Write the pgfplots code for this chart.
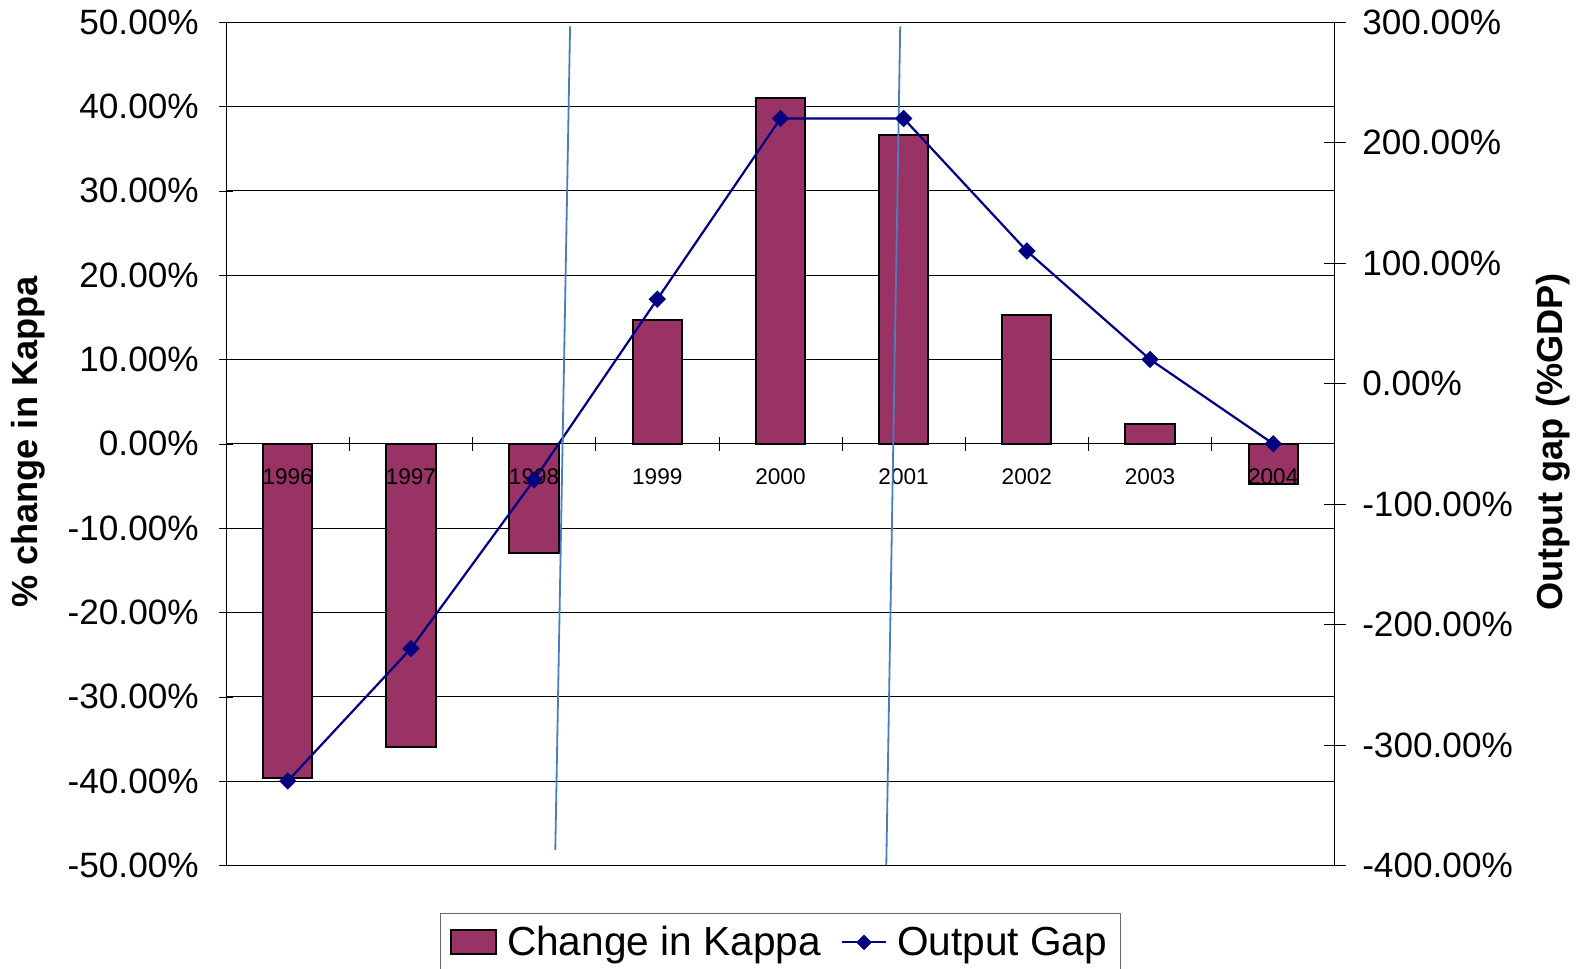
\documentclass[border=0pt]{standalone}
\usepackage{pgfplots}
\pgfplotsset{compat=1.18}
\usepackage{fontspec}
\setmainfont{Liberation Sans}

\definecolor{kappa}{RGB}{153,51,102}
\definecolor{gapline}{RGB}{0,0,128}
\definecolor{marker}{RGB}{74,126,187}

\tikzset{year/.style={font=\fontsize{11.25}{13}\selectfont, anchor=north, inner sep=0pt, yshift=-12pt}}

\begin{document}
\begin{tikzpicture}
\begin{axis}[
  at={(112.5pt,51.5pt)}, anchor=south west,
  scale only axis, width=551.5pt, height=419.5pt,
  xmin=-0.5, xmax=8.5, ymin=-50, ymax=50,
  axis x line*=middle, axis y line*=left,
  x axis line style={-}, y axis line style={-, line width=0.6pt},
  xtick={0.5,1.5,...,7.5}, xticklabels={},
  xtick style={black, /pgfplots/major tick length=7pt},
  ytick={-50,-40,...,50},
  ytick style={black, /pgfplots/major tick length=7pt},
  tick align=center,
  yticklabel={\pgfmathprintnumber[fixed,fixed zerofill,precision=2,assume math mode=true]{\tick}\%},
  yticklabel style={font=\fontsize{17.5}{21}\selectfont, xshift=-8pt},
  ymajorgrids, grid style={black, line width=0.5pt},
  ylabel={\bfseries \% change in Kappa},
  ylabel style={font=\fontsize{18}{21}\selectfont, at={(axis description cs:-0.1786,0.502)}, anchor=center},
  legend columns=2,
  legend style={at={(0.5,-0.056)}, anchor=north, draw=gray!80!black, line width=0.5pt,
    font=\fontsize{20.2}{24}\selectfont, inner sep=4.5pt,
    /tikz/every odd column/.append style={column sep=3pt},
    /tikz/every even column/.append style={column sep=8pt}},
]
\addplot[ybar, bar width=24.5pt, fill=kappa, draw=black, line width=1pt,
  legend image code/.code={\draw[fill=kappa, draw=black, line width=1pt] (0pt,-6pt) rectangle (22.5pt,6pt);}]
  coordinates {(0,-39.6) (1,-36.0) (2,-12.9) (3,14.7) (4,41.0) (5,36.6) (6,15.3) (7,2.4) (8,-4.8)};
\addlegendentry{Change in Kappa}
\addlegendimage{legend image code/.code={
  \draw[gapline, line width=1pt] (0pt,0pt) -- (22pt,0pt);
  \fill[gapline] (7.5pt,0pt) -- (11pt,3.5pt) -- (14.5pt,0pt) -- (11pt,-3.5pt) -- cycle;}}
\addlegendentry{Output Gap}
% category labels sit just below the zero line, over the bars
\node[year] at (axis cs:0,0) {1996};
\node[year] at (axis cs:1,0) {1997};
\node[year] at (axis cs:2,0) {1998};
\node[year] at (axis cs:3,0) {1999};
\node[year] at (axis cs:4,0) {2000};
\node[year] at (axis cs:5,0) {2001};
\node[year] at (axis cs:6,0) {2002};
\node[year] at (axis cs:7,0) {2003};
\node[year] at (axis cs:8,0) {2004};
\end{axis}

\begin{axis}[
  at={(112.5pt,51.5pt)}, anchor=south west,
  scale only axis, width=551.5pt, height=419.5pt,
  xmin=-0.5, xmax=8.5, ymin=-400, ymax=300,
  axis x line=none, axis y line*=right,
  y axis line style={-, line width=0.6pt},
  ytick={-400,-300,...,300},
  ytick style={black, /pgfplots/major tick length=11pt},
  tick align=center,
  yticklabel={\pgfmathprintnumber[fixed,fixed zerofill,precision=2,assume math mode=true]{\tick}\%},
  yticklabel style={font=\fontsize{17.5}{21}\selectfont, xshift=8pt},
  ylabel={\bfseries Output gap (\%GDP)},
  ylabel style={font=\fontsize{18}{21}\selectfont, at={(axis description cs:1.1967,0.502)}, anchor=center, rotate=0},
]
\addplot[gapline, line width=1.1pt, mark=square*, mark size=2.5pt, mark options={rotate=45, fill=gapline}]
  coordinates {(0,-330) (1,-220) (2,-80) (3,70) (4,220) (5,220) (6,110) (7,20) (8,-50)};
% hand-drawn marker lines
\addplot[marker, line width=0.9pt] coordinates {(2.292,296.5) (2.172,-387.4)};
\addplot[marker, line width=0.9pt] coordinates {(4.972,296.5) (4.859,-400)};
\end{axis}
\pgfresetboundingbox
\useasboundingbox (0,0) rectangle (784pt,482pt);
\end{tikzpicture}
\end{document}
